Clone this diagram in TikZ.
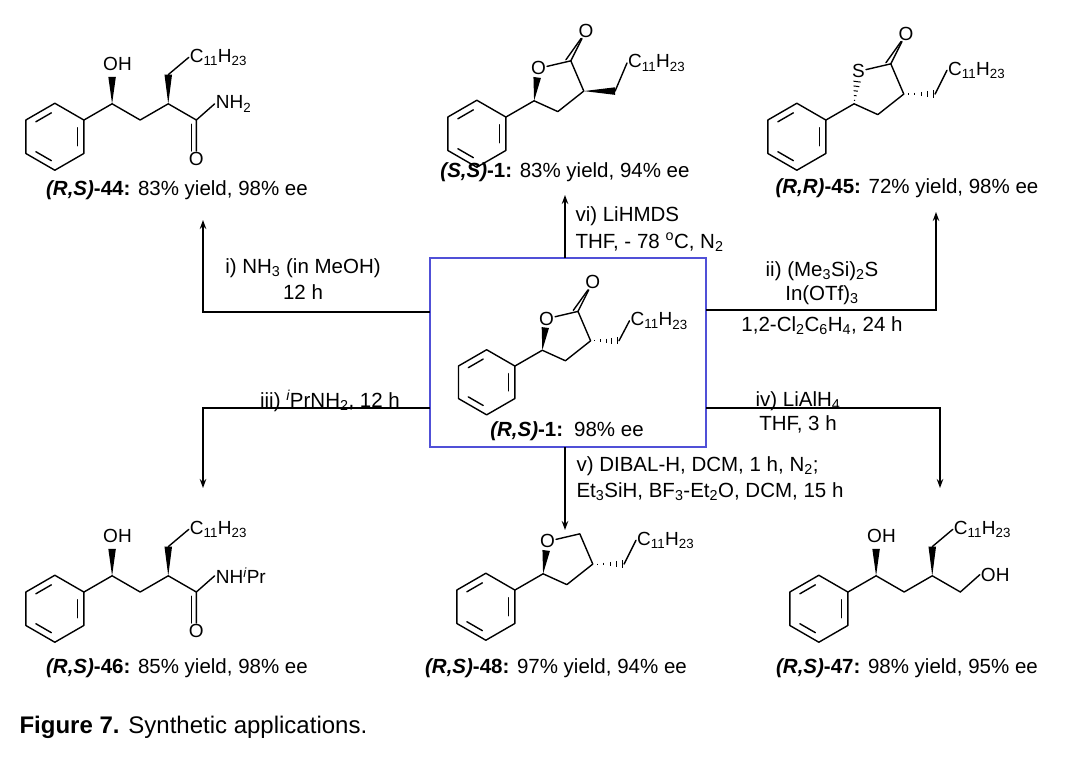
\documentclass[tikz,border=0pt]{standalone}
\usepackage{fontspec}
\setmainfont{Liberation Sans}
\usetikzlibrary{arrows.meta,calc}
\newcommand\mwedge[2]{\fill ($(#1)$) -- ($(#2)!3.5pt!90:(#1)$) -- ($(#2)!3.5pt!-90:(#1)$) -- cycle;}
\newcommand\mhash[2]{\foreach \t in {0.15,0.35,0.55,0.75,0.95}{\draw[line width=1pt] ($(#1)!\t!(#2)!{\t*3.6pt}!90:(#2)$) -- ($(#1)!\t!(#2)!{\t*3.6pt}!-90:(#2)$);}}
\newcommand\benz{\draw[bond] (-27,15.5) +(-30:31) -- +(30:31) -- +(90:31) -- +(150:31) -- +(210:31) -- +(270:31) -- cycle;
 \draw[bond,shorten >=4pt,shorten <=4pt] (-27,15.5) +(270:24) -- +(210:24);
 \draw[bond,shorten >=4pt,shorten <=4pt] (-27,15.5) +(-30:24) -- +(30:24);
 \draw[bond,shorten >=4pt,shorten <=4pt] (-27,15.5) +(90:24) -- +(150:24);}
\newcommand\Cchain{C\textsubscript{11}H\textsubscript{23}}
\newcommand\lacring[1]{%
 \coordinate (p0) at (0,0); \coordinate (c5) at (26,-15);
 \node[atom] (x) at (30,-45) {#1};
 \coordinate (c2) at (60,-52); \coordinate (c3) at (72,-24); \coordinate (c4) at (48,-5);
 \draw[bond] (p0) -- (c5) (x) -- (c2) -- (c3) -- (c4) -- (c5);}
\newcommand\openchain{%
 \coordinate (p0) at (0,0); \coordinate (c1) at (26,-15); \coordinate (c2) at (52,0);
 \coordinate (c3) at (78,-15); \coordinate (c4) at (104,0); \coordinate (w3) at (78,-42);
 \node[atom] (oh) at (31,-52) {OH};
 \node[atom,anchor=west] (ch) at (97,-58) {\Cchain};
 \draw[bond] (p0) -- (c1) -- (c2) -- (c3) -- (c4) (w3) -- (ch.west);
 \mwedge{c1}{26,-40} \mwedge{c3}{w3}}
\begin{document}
\begin{tikzpicture}[x=1pt,y=-1pt,
 bond/.style={line width=1.4pt,line cap=round,line join=round},
 atom/.style={inner sep=1pt,font=\fontsize{19}{20}\selectfont},
 lab/.style={font=\fontsize{20.5}{22}\selectfont},
 mol/.style={scale=1.08},
 arr/.style={line width=1.2pt,-{Stealth[length=9pt,width=6.5pt]}}]
\useasboundingbox (0,0) rectangle (1080,756);
% (R,S)-44
\begin{scope}[shift={(84,120)},mol]
 \benz \openchain
 \node[atom,anchor=west] (nh) at (121,-15) {NH\textsubscript{2}};
 \node[atom] (o) at (104,36) {O};
 \draw[bond] (c4) -- (nh.west);
 \draw[bond] (c4) -- (o); \draw[bond] ($(c4)+(-4.5,4)$) -- ($(o.north)+(-4.5,0)$);
\end{scope}
\node[lab] (l44) at (177,190) {\textbf{\textit{(R,S)}-44:} 83\% yield, 98\% ee};
% (R,S)-46
\begin{scope}[shift={(84,592)},mol]
 \benz \openchain
 \node[atom,anchor=west] (nh) at (121,-15) {NH\textsuperscript{\itshape i}Pr};
 \node[atom] (o) at (104,36) {O};
 \draw[bond] (c4) -- (nh.west);
 \draw[bond] (c4) -- (o); \draw[bond] ($(c4)+(-4.5,4)$) -- ($(o.north)+(-4.5,0)$);
\end{scope}
\node[lab] (l46) at (177,668) {\textbf{\textit{(R,S)}-46:} 85\% yield, 98\% ee};
% (R,S)-47
\begin{scope}[shift={(848,592)},mol]
 \benz \openchain
 \node[atom,anchor=west] (oh2) at (122,-16) {OH};
 \draw[bond] (c4) -- (oh2.west);
\end{scope}
\node[lab] (l47) at (907,668) {\textbf{\textit{(R,S)}-47:} 98\% yield, 95\% ee};
% (S,S)-1
\begin{scope}[shift={(506,117)},mol]
 \benz \lacring{O}
 \node[atom] (co) at (74,-80) {O};
 \draw[bond] (c2) -- (co); \draw[bond] ($(c2)+(-4.5,-1)$) -- ($(co.south)+(-4.5,0)$);
 \mwedge{c5}{$(c5)!0.72!(x)$}
 \coordinate (w) at (101,-24);
 \node[atom,anchor=west] (ch) at (112,-50) {\Cchain};
 \mwedge{c3}{w} \draw[bond] (w) -- (ch.west);
\end{scope}
\node[lab] (l1) at (565,172) {\textbf{\textit{(S,S)}-1:} 83\% yield, 94\% ee};
% (R,R)-45
\begin{scope}[shift={(826,120)},mol]
 \benz \lacring{S}
 \node[atom] (co) at (74,-80) {O};
 \draw[bond] (c2) -- (co); \draw[bond] ($(c2)+(-4.5,-1)$) -- ($(co.south)+(-4.5,0)$);
 \mhash{c5}{$(c5)!0.72!(x)$}
 \coordinate (w) at (101,-24);
 \node[atom,anchor=west] (ch) at (112,-46) {\Cchain};
 \mhash{c3}{w} \draw[bond] (w) -- (ch.west);
\end{scope}
\node[lab] (l45) at (907,188) {\textbf{\textit{(R,R)}-45:} 72\% yield, 98\% ee};
% (R,S)-1 centre
\draw[line width=1.3pt,draw={rgb,255:red,80;green,80;blue,215}] (430,258) rectangle (706,447);
\coordinate (bT) at (565,258); \coordinate (bB) at (565,447);
\coordinate (bL1) at (430,312); \coordinate (bL2) at (430,408);
\coordinate (bR1) at (706,310); \coordinate (bR2) at (706,408);
\begin{scope}[shift={(515,366)},scale=1.05]
 \benz \lacring{O}
 \node[atom] (co) at (74,-80) {O};
 \draw[bond] (c2) -- (co); \draw[bond] ($(c2)+(-4.5,-1)$) -- ($(co.south)+(-4.5,0)$);
 \mwedge{c5}{$(c5)!0.72!(x)$}
 \coordinate (w) at (99,-24);
 \node[atom,anchor=west] (ch) at (109,-43) {\Cchain};
 \mhash{c3}{w} \draw[bond] (w) -- (ch.west);
\end{scope}
\node[lab] (l0) at (567,431) {\textbf{\textit{(R,S)}-1:}\, 98\% ee};
% (R,S)-48
\begin{scope}[shift={(515,590)},mol]
 \benz \lacring{O}
 \mwedge{c5}{$(c5)!0.72!(x)$}
 \coordinate (w) at (101,-24);
 \node[atom,anchor=west] (ch) at (112,-46) {\Cchain};
 \mhash{c3}{w} \draw[bond] (w) -- (ch.west);
\end{scope}
\node[lab] (l48) at (556,668) {\textbf{\textit{(R,S)}-48:} 97\% yield, 94\% ee};
% arrows
\coordinate (aL1) at (203,220); \coordinate (aL2) at (203,488);
\coordinate (aR1) at (936,212); \coordinate (aR2) at (940,488);
\coordinate (aT) at (565,195); \coordinate (aB) at (565,530);
\draw[arr] (bL1) -| (aL1);
\draw[arr] (bL2) -| (aL2);
\draw[arr] (bR1) -| (aR1);
\draw[arr] (bR2) -| (aR2);
\draw[arr] (bT) -- (aT);
\draw[arr] (bB) -- (aB);
% conditions
\node[lab] (ci) at (303,268) {i) NH\textsubscript{3} (in MeOH)};
\node[lab] (ci2) at (303,292) {12 h};
\node[lab,anchor=west] (cvi) at (572,216) {vi) LiHMDS};
\node[lab,anchor=west] (cvi2) at (572,242) {THF, - 78 \textsuperscript{o}C, N\textsubscript{2}};
\node[lab] (cii) at (822,271) {ii) (Me\textsubscript{3}Si)\textsubscript{2}S};
\node[lab] (cii2) at (822,295) {In(OTf)\textsubscript{3}};
\node[lab] (cii3) at (822,326) {1,2-Cl\textsubscript{2}C\textsubscript{6}H\textsubscript{4}, 24 h};
\node[lab] (ciii) at (330,401) {iii) \textsuperscript{\itshape i}PrNH\textsubscript{2}, 12 h};
\node[lab] (civ) at (798,401) {iv) LiAlH\textsubscript{4}};
\node[lab] (civ2) at (798,424) {THF, 3 h};
\node[lab,anchor=west] (cv) at (573,466) {v) DIBAL-H, DCM, 1 h, N\textsubscript{2};};
\node[lab,anchor=west] (cv2) at (573,492) {Et\textsubscript{3}SiH, BF\textsubscript{3}-Et\textsubscript{2}O, DCM, 15 h};
\node[anchor=west,font=\fontsize{24}{28}\selectfont] (cap) at (16,727) {\textbf{Figure 7.} Synthetic applications.};
\end{tikzpicture}
\end{document}
